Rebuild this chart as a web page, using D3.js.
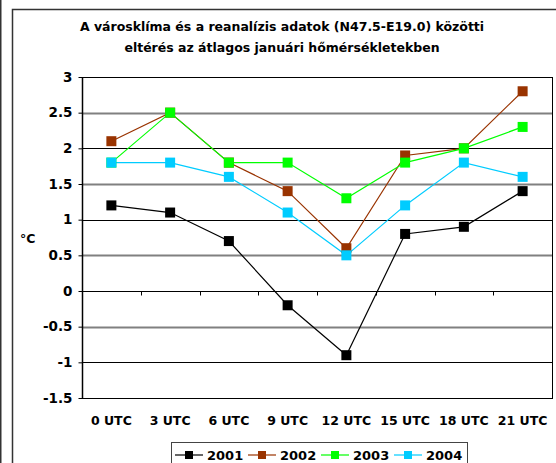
<!DOCTYPE html>
<html>
<head>
<meta charset="utf-8">
<script src="https://cdn.jsdelivr.net/npm/d3@7"></script>
<style>
  html, body { margin: 0; padding: 0; background: #fff; }
  svg { display: block; }
  text { font-family: Tahoma, "DejaVu Sans", Verdana, sans-serif; font-weight: bold; fill: #000; }
</style>
</head>
<body>
<script>
// Categories (hour of day) and the yearly series of temperature differences (°C)
const categories = ["0 UTC", "3 UTC", "6 UTC", "9 UTC", "12 UTC", "15 UTC", "18 UTC", "21 UTC"];
const years = ["2001", "2002", "2003", "2004"];
const v2001 = [1.2, 1.1, 0.7, -0.2, -0.9, 0.8, 0.9, 1.4];
const v2002 = [2.1, 2.5, 1.8, 1.4, 0.6, 1.9, 2.0, 2.8];
const v2003 = [1.8, 2.5, 1.8, 1.8, 1.3, 1.8, 2.0, 2.3];
const v2004 = [1.8, 1.8, 1.6, 1.1, 0.5, 1.2, 1.8, 1.6];
const yTicks = [-1.5, -1, -0.5, 0, 0.5, 1, 1.5, 2, 2.5, 3];
const colors = ["#000000", "#993300", "#00ff00", "#00ccff"];
const titleLines = ["A városklíma és a reanalízis adatok (N47.5-E19.0) közötti",
                    "eltérés az átlagos januári hőmérsékletekben"];

const series = years.map((y, i) => ({ name: y, values: [v2001, v2002, v2003, v2004][i], color: colors[i] }));

const W = 556, H = 463;
const plot = { left: 82, right: 552, top: 77, bottom: 398 };

const svg = d3.select("body").append("svg").attr("width", W).attr("height", H);

// outer frames
svg.append("line").attr("x1", 0.75).attr("x2", 0.75).attr("y1", 0).attr("y2", H)
  .attr("stroke", "#333").attr("stroke-width", 1.5);
svg.append("path").attr("d", `M12.5,${H} V9.5 H${W + 5}`)
  .attr("fill", "none").attr("stroke", "#333").attr("stroke-width", 1.5);

// title
svg.append("text").attr("x", 282).attr("y", 31).attr("text-anchor", "middle")
  .style("font-size", "12.5px").text(titleLines[0]);
svg.append("text").attr("x", 282).attr("y", 52).attr("text-anchor", "middle")
  .style("font-size", "12.5px").text(titleLines[1]);

const x = d3.scaleBand().domain(categories).range([plot.left, plot.right]).padding(0);
const y = d3.scaleLinear().domain([-1.5, 3]).range([plot.bottom, plot.top]);

// horizontal gridlines
svg.append("g").selectAll("line").data(yTicks.filter(t => t > -1.5 && t < 3)).join("line")
  .attr("x1", plot.left).attr("x2", plot.right)
  .attr("y1", d => Math.round(y(d)) + 0.5).attr("y2", d => Math.round(y(d)) + 0.5)
  .attr("stroke", d => Number.isInteger(d) ? "#000" : "#808080")
  .attr("stroke-width", d => Number.isInteger(d) ? 1 : 2);

// plot area border
svg.append("rect").attr("x", plot.left + 0.5).attr("y", plot.top + 0.5)
  .attr("width", plot.right - plot.left).attr("height", plot.bottom - plot.top)
  .attr("fill", "none").attr("stroke", "#000").attr("stroke-width", 1);
// left axis line a bit heavier
svg.append("line").attr("x1", plot.left + 0.5).attr("x2", plot.left + 0.5)
  .attr("y1", plot.top).attr("y2", plot.bottom + 1).attr("stroke", "#000").attr("stroke-width", 1.5);

// y axis
const yAxis = svg.append("g").attr("transform", `translate(${plot.left + 0.5},0)`)
  .call(d3.axisLeft(y).tickValues(yTicks).tickSize(4).tickPadding(6).tickFormat(d => String(d)));
yAxis.select(".domain").remove();
yAxis.selectAll(".tick line").attr("stroke", "#000");
yAxis.selectAll(".tick text").style("font-size", "13.5px").style("font-family", null);

// category axis, crossing at 0
const xAxis = svg.append("g").attr("transform", `translate(0,${Math.round(y(0)) + 0.5})`)
  .call(d3.axisBottom(x).tickSize(0).tickFormat(""));
xAxis.select(".domain").remove();
xAxis.selectAll(".tick").remove();
xAxis.selectAll("line.sep").data(categories.slice(1)).join("line").attr("class", "sep")
  .attr("x1", d => Math.round(x(d)) + 0.5).attr("x2", d => Math.round(x(d)) + 0.5)
  .attr("y1", 0).attr("y2", 4).attr("stroke", "#000");

// category labels
svg.append("g").selectAll("text").data(categories).join("text")
  .attr("x", d => x(d) + x.bandwidth() / 2).attr("y", 425)
  .attr("text-anchor", "middle").style("font-size", "12.5px").text(d => d);

// unit label
svg.append("text").attr("x", 20).attr("y", 243).style("font-size", "12.5px").text("°C");

// series lines and markers
const line = d3.line().x((d, i) => x(categories[i]) + x.bandwidth() / 2).y(d => y(d));
const gS = svg.append("g");
series.forEach(s => {
  gS.append("path").attr("d", line(s.values)).attr("fill", "none")
    .attr("stroke", s.color).attr("stroke-width", 1.2);
});
series.forEach(s => {
  gS.append("g").selectAll("rect").data(s.values).join("rect")
    .attr("x", (d, i) => x(categories[i]) + x.bandwidth() / 2 - 5)
    .attr("y", d => y(d) - 5)
    .attr("width", 10).attr("height", 10).attr("fill", s.color);
});

// legend
const lg = svg.append("g");
lg.append("rect").attr("x", 171.5).attr("y", 442.5).attr("width", 296).attr("height", 30)
  .attr("fill", "#fff").attr("stroke", "#444").attr("stroke-width", 1);
const legX = [175, 248, 321, 394];
series.forEach((s, i) => {
  const g = lg.append("g").attr("transform", `translate(${legX[i]},0)`);
  g.append("line").attr("x1", 0).attr("x2", 28).attr("y1", 455).attr("y2", 455)
    .attr("stroke", s.color).attr("stroke-width", 1.2);
  g.append("rect").attr("x", 10).attr("y", 451).attr("width", 8).attr("height", 8).attr("fill", s.color);
  g.append("text").attr("x", 32).attr("y", 460).style("font-size", "13px").text(s.name);
});
</script>
</body>
</html>
